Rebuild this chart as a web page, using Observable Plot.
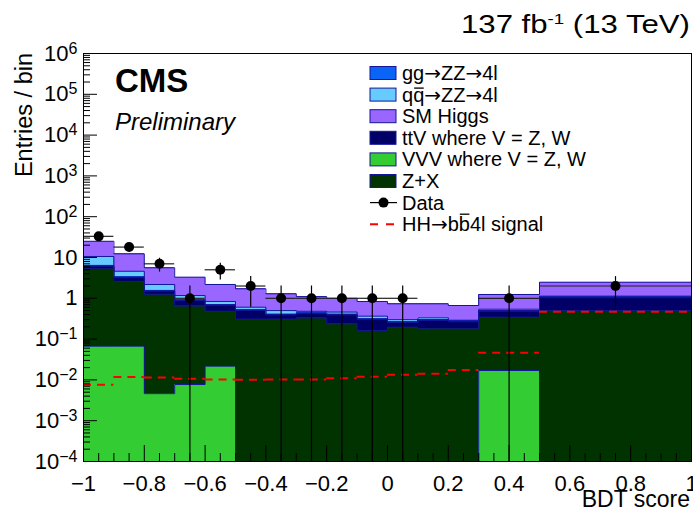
<!DOCTYPE html>
<html><head><meta charset="utf-8">
<script src="https://cdn.jsdelivr.net/npm/d3@7"></script>
<script src="https://cdn.jsdelivr.net/npm/@observablehq/plot@0.6"></script>
<style>
html,body{margin:0;padding:0;background:#fff;}
#wrap{position:relative;width:693px;height:511px;font-family:"Liberation Sans",Arial,Helvetica,sans-serif;}
#wrap svg{position:absolute;left:0;top:0;}
</style></head><body><div id="wrap"></div>
<script>
// ---- data ----
const binEdges = [-1,-0.9,-0.8,-0.7,-0.6,-0.5,-0.4,-0.3,-0.2,-0.1,0,0.1,0.2,0.3,0.5,1];
const vvv   = [0.067,0.067,0.0046,0.0077,0.0217,0,0,0,0,0,0,0,0,0.017,0];
const zx    = [5.23,2.53,1.255,0.64,0.46,0.31,0.31,0.33,0.237,0.163,0.196,0.179,0.179,0.327,0.50];
const ttv   = [0.8,0.6,0.23,0.23,0.19,0.19,0.08,0.09,0.153,0.137,0.059,0.107,0.087,0.136,0.53];
const ggzz  = [0.3,0.15,0.07,0.04,0.03,0.025,0.02,0.02,0.02,0.015,0.012,0.014,0.012,0.022,0.05];
const qqzz  = [4.2,1.25,0.62,0.25,0.135,0.08,0.09,0.04,0.05,0.05,0.033,0.033,0.012,0.038,0.05];
const higgs = [14.4,7.7,3.42,2.13,1.345,1.105,0.79,0.62,0.54,0.47,0.433,0.40,0.376,0.70,1.35];
const signal = [0.0076,0.0118,0.0114,0.0106,0.0103,0.0101,0.0102,0.0102,0.0110,0.0120,0.0134,0.0142,0.0175,0.046,0.47];
const dataX    = [-0.95,-0.85,-0.75,-0.65,-0.55,-0.45,-0.35,-0.25,-0.15,-0.05,0.05,0.4,0.75];
const dataY    = [33,18,7,1,5,2,1,1,1,1,1,1,2];
const dataXErr = [0.05,0.05,0.05,0.05,0.05,0.05,0.05,0.05,0.05,0.05,0.05,0.1,0.25];
const dataYErr = [5.7,4.2,2.6,1,2.2,1.4,1,1,1,1,1,1,1.4];
const xTicks = [-1,-0.8,-0.6,-0.4,-0.2,0,0.2,0.4,0.6,0.8,1];
const xTickLabels = ["\u22121","\u22120.8","\u22120.6","\u22120.4","\u22120.2","0","0.2","0.4","0.6","0.8","1"];
const yTicks = [1e-4,1e-3,1e-2,1e-1,1,10,100,1e3,1e4,1e5,1e6];
const yTickLabels = ["10^\u22124","10^\u22123","10^\u22122","10^\u22121","1","10","10^2","10^3","10^4","10^5","10^6"];
const AR = "<tspan style=\"font-family:'DejaVu Sans'\">\u2192</tspan>";
const legendLabels = [
  `gg${AR}ZZ${AR}4l`,
  `q<tspan class="ovq">q</tspan>${AR}ZZ${AR}4l`,
  "SM Higgs",
  "ttV where V = Z, W",
  "VVV where V = Z, W",
  "Z+X",
  "Data",
  `HH${AR}b<tspan class="ovb">b</tspan>4l signal`
];

// ---- styles ----
const layers = [
  {values: vvv,   fill: "#33cc33"},
  {values: zx,    fill: "#003300"},
  {values: ttv,   fill: "#000066"},
  {values: ggzz,  fill: "#0a64f5"},
  {values: qqzz,  fill: "#66ccff"},
  {values: higgs, fill: "#9966ff"}
];
const legendFills = ["#0a64f5","#66ccff","#9966ff","#000066","#33cc33","#003300"];
const outlineColor = "#15159a";
const YMIN = 1e-4;

const W = 693, H = 511, mL = 83, mR = 2, mT = 53, mB = 50;
const pw = W - mL - mR, ph = H - mT - mB;

// build stacked rects & outlines
const cum = vvv.map(() => 0);
const layerRects = [], layerLines = [];
layers.forEach((L, li) => {
  const rs = [], ps = [];
  L.values.forEach((v, i) => {
    const lo = cum[i], hi = cum[i] + v;
    rs.push({x1: binEdges[i], x2: binEdges[i+1], y1: Math.max(lo, YMIN), y2: Math.max(hi, YMIN)});
    ps.push({x: binEdges[i], y: Math.max(hi, YMIN)});
    cum[i] = hi;
  });
  ps.push({x: binEdges[binEdges.length-1], y: ps[ps.length-1].y});
  layerRects.push(rs); layerLines.push(ps);
});
const sig = signal.map((v, i) => ({x1: binEdges[i], x2: binEdges[i+1], y: v}));
const pts = dataX.map((x, i) => ({x, y: dataY[i], ex: dataXErr[i], ey: dataYErr[i]}));

const xMinor = [];
for (let k = -20; k <= 20; k++) if (k % 4 !== 0) xMinor.push(k / 20);
const yMinor = [];
for (let e = -4; e <= 5; e++) for (let m = 2; m <= 9; m++) yMinor.push(m * Math.pow(10, e));

const marks = [];
layers.forEach((L, li) => marks.push(Plot.rect(layerRects[li], {x1: "x1", x2: "x2", y1: "y1", y2: "y2", fill: L.fill, shapeRendering: "crispEdges"})));
layers.forEach((L, li) => marks.push(Plot.line(layerLines[li], {x: "x", y: "y", curve: "step-after", stroke: outlineColor, strokeWidth: 1})));
marks.push(
  Plot.ruleY(sig, {y: "y", x1: "x1", x2: "x2", stroke: "#ff0000", strokeWidth: 2, strokeDasharray: "8,6"}),
  Plot.ruleY(pts, {y: "y", x1: d => d.x - d.ex, x2: d => d.x + d.ex, stroke: "#222", strokeWidth: 1.2}),
  Plot.ruleX(pts, {x: "x", y1: d => Math.max(d.y - d.ey, YMIN), y2: d => d.y + d.ey, stroke: "#000", strokeWidth: 1.2}),
  Plot.dot(pts, {x: "x", y: "y", r: 5, fill: "#000"}),
  Plot.ruleX(xTicks, {insetTop: ph - 16, stroke: "#000"}),
  Plot.ruleX(xMinor, {insetTop: ph - 8, stroke: "#000"}),
  Plot.ruleY(yTicks, {insetRight: pw - 14, stroke: "#000"}),
  Plot.ruleY(yMinor, {insetRight: pw - 7, stroke: "#000"}),
  Plot.frame({stroke: "#000"}),
  Plot.axisX({ticks: xTicks, tickSize: 0, tickPadding: 14, fontSize: 22, label: null,
    tickFormat: d => xTickLabels[xTicks.indexOf(d)]}),
  Plot.axisY({ticks: yTicks, tickSize: 0, tickPadding: 6, fontSize: 22, label: null,
    tickFormat: d => yTickLabels[yTicks.indexOf(d)]})
);

const chart = Plot.plot({
  width: W, height: H, marginLeft: mL, marginRight: mR, marginTop: mT, marginBottom: mB,
  style: {fontFamily: "'Liberation Sans', Arial, Helvetica, sans-serif", background: "transparent", color: "#000", overflow: "visible"},
  x: {domain: [-1, 1]},
  y: {type: "log", domain: [1e-4, 1e6]},
  marks
});
document.getElementById("wrap").appendChild(chart);

// superscripts on y tick labels
chart.querySelectorAll('g[aria-label="y-axis tick label"] text').forEach(t => {
  const parts = t.textContent.split("^");
  if (parts.length === 2) {
    t.textContent = parts[0];
    const ts = document.createElementNS("http://www.w3.org/2000/svg", "tspan");
    ts.setAttribute("dy", "-7");
    ts.setAttribute("font-size", "16");
    ts.textContent = parts[1];
    t.appendChild(ts);
  }
});

// overlay texts and legend
let leg = "";
const rowY = i => 73 + i * 21.6;
for (let i = 0; i < 6; i++) {
  leg += `<rect x="370" y="${rowY(i) - 6.5}" width="26" height="13" fill="${legendFills[i]}" stroke="${outlineColor}" stroke-width="1"/>`;
}
leg += `<line x1="370" x2="397" y1="${rowY(6)}" y2="${rowY(6)}" stroke="#000" stroke-width="1.2"/><circle cx="383.5" cy="${rowY(6)}" r="5" fill="#000"/>`;
leg += `<line x1="370" x2="394" y1="${rowY(7)}" y2="${rowY(7)}" stroke="#ff0000" stroke-width="2" stroke-dasharray="8,8"/>`;
legendLabels.forEach((s, i) => {
  leg += `<text class="legtext" data-base="${rowY(i) + 7}" x="402" y="${rowY(i) + 7}" font-size="20">${s}</text>`;
});
const ov = `<svg id="ov" width="${W}" height="${H}" xmlns="http://www.w3.org/2000/svg" style="font-family:'Liberation Sans',Arial,Helvetica,sans-serif">
<text x="690" y="33" text-anchor="end" font-size="25" textLength="229" lengthAdjust="spacingAndGlyphs">137 fb<tspan dy="-9" font-size="15">-1</tspan><tspan dy="9"> (13 TeV)</tspan></text>
<text x="115" y="92" font-size="33" font-weight="bold">CMS</text>
<text x="115" y="130" font-size="24" font-style="italic">Preliminary</text>
<text transform="translate(32,53) rotate(-90)" text-anchor="end" font-size="23.5">Entries / bin</text>
<text x="690" y="507" text-anchor="end" font-size="23">BDT score</text>
${leg}
</svg>`;
document.getElementById("wrap").insertAdjacentHTML("beforeend", ov);

// overlines (q-bar, b-bar)
const ovsvg = document.getElementById("ov");
ovsvg.querySelectorAll("tspan.ovq, tspan.ovb").forEach(ts => {
  const base = +ts.parentNode.getAttribute("data-base");
  const ext = ts.getExtentOfChar(0);
  const yLine = ts.classList.contains("ovq") ? base - 13.5 : base - 17;
  const ln = document.createElementNS("http://www.w3.org/2000/svg", "line");
  ln.setAttribute("x1", ext.x + 1); ln.setAttribute("x2", ext.x + ext.width - 0.5);
  ln.setAttribute("y1", yLine); ln.setAttribute("y2", yLine);
  ln.setAttribute("stroke", "#000"); ln.setAttribute("stroke-width", "1.3");
  ovsvg.appendChild(ln);
});
</script>
</body></html>
